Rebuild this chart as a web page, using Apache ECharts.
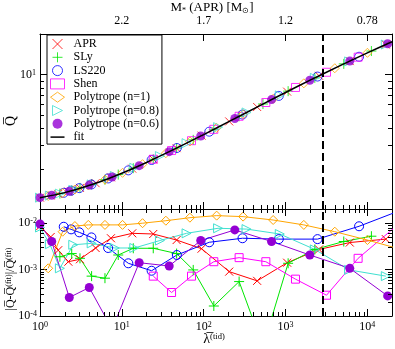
<!DOCTYPE html>
<html><head><meta charset="utf-8">
<script src="https://cdn.jsdelivr.net/npm/echarts@6/dist/echarts.min.js"></script>
<style>html,body{margin:0;padding:0;background:#fff}#c{width:395px;height:349px}</style>
</head><body><div id="c"></div>
<script>
// ---------------- data ----------------
const fitLambda = [1, 2, 5, 10, 20, 50, 100, 200, 500, 1000, 2000, 5000, 10000, 20000];
const fitQ = [1.214, 1.324, 1.569, 1.846, 2.218, 2.893, 3.577, 4.443, 5.926, 7.35, 9.08, 11.89, 14.48, 17.52];

const aprLambda = [1, 1.35, 1.67, 2.22, 3.08, 4.78, 7.36, 13.4, 24.2, 46.7, 94.2, 205, 450, 1047, 2570, 6100, 16800];
const aprQ = [1.214, 1.260, 1.294, 1.349, 1.435, 1.556, 1.718, 1.995, 2.344, 2.835, 3.512, 4.479, 5.733, 7.455, 9.777, 12.58, 16.70];
const aprErr = [8.5e-3, 5.0e-3, 2.6e-3, 1.47e-3, 1.66e-3, 2.9e-3, 4.7e-3, 6.0e-3, 5.8e-3, 4.3e-3, 2.8e-3, 9.0e-4, 5.7e-4, 1.4e-3, 2.7e-3, 3.8e-3, 4.5e-3];

const slyLambda = [1.75, 2.44, 3.08, 4.27, 6.22, 9.04, 13.8, 24.2, 46.7, 74.5, 133, 271, 530, 1076, 2280, 5150, 11200];
const slyQ = [1.302, 1.373, 1.435, 1.523, 1.652, 1.803, 2.011, 2.344, 2.835, 3.268, 3.912, 4.889, 6.034, 7.518, 9.438, 11.99, 14.94];
const slyErr = [1.88e-3, 2.2e-3, 1.74e-3, 7.2e-4, 6.5e-4, 2.05e-3, 2.86e-3, 2.86e-3, 2.2e-3, 9.8e-4, 1.64e-4, 5.5e-4, 2.2e-5, 1.36e-3, 2.7e-3, 4.0e-3, 5.2e-3];

const ls220Lambda = [1.95, 2.4, 3.02, 4.25, 6.8, 12.0, 23.1, 47, 117, 298, 828, 2460, 7920, 25000];
const ls220Q = [1.319, 1.369, 1.429, 1.522, 1.687, 1.937, 2.314, 2.841, 3.757, 5.035, 6.932, 9.652, 13.55, 18.6];
const ls220Err = [8.3e-3, 7.3e-3, 6.3e-3, 4.9e-3, 2.9e-3, 1.36e-3, 9.4e-4, 2.05e-3, 3.85e-3, 4.7e-3, 4.5e-3, 4.5e-3, 8.5e-3, 1.85e-2];

const shenLambda = [24.2, 40.5, 71, 133, 271, 575, 1324, 3170, 7710, 25000];
const shenQ = [2.344, 2.720, 3.220, 3.912, 4.889, 6.190, 8.008, 10.39, 13.45, 18.6];
const shenErr = [7.2e-4, 3.2e-4, 7.2e-4, 1.47e-3, 1.8e-3, 1.47e-3, 6.2e-4, 2.8e-4, 1.74e-3, 1.0e-2];

const poly1Lambda = [1.26, 1.89, 2.67, 3.89, 6.22, 10.2, 17.9, 34.5, 67.9, 144, 303, 706, 1673, 4000, 10020, 24000];
const poly1Q = [1.249, 1.314, 1.397, 1.497, 1.652, 1.857, 2.154, 2.598, 3.177, 4.008, 5.061, 6.598, 8.596, 11.13, 14.49, 18.4];
const poly1Err = [1.06e-3, 6.5e-3, 8.6e-3, 9.1e-3, 9.1e-3, 9.1e-3, 9.9e-3, 1.12e-2, 1.30e-2, 1.44e-2, 1.37e-2, 1.16e-2, 9.1e-3, 6.5e-3, 4.3e-3, 2.8e-3];

const poly08Lambda = [1, 1.32, 1.75, 2.55, 4.28, 8.2, 14.2, 29.2, 61.8, 150, 334, 851, 2280, 5980, 16800];
const poly08Q = [1.214, 1.257, 1.302, 1.385, 1.524, 1.762, 2.025, 2.475, 3.087, 4.060, 5.222, 6.991, 9.438, 12.51, 16.70];
const poly08Err = [8e-3, 3.5e-3, 1.06e-3, 3.4e-3, 3.65e-3, 2.9e-3, 2.9e-3, 4.2e-3, 6.0e-3, 7.7e-3, 7.4e-3, 5.8e-3, 2.7e-3, 9.8e-4, 7.2e-4];

const poly06Lambda = [1, 1.39, 2.28, 4.0, 7.6, 16.3, 37.9, 92, 240, 675, 1980, 6100, 17700];
const poly06Q = [1.214, 1.265, 1.356, 1.506, 1.731, 2.101, 2.670, 3.487, 4.704, 6.505, 9.055, 12.58, 16.94];
const poly06Err = [9.5e-3, 4.0e-3, 2.5e-4, 4.1e-4, 5.2e-5, 1.4e-3, 1.19e-3, 4.2e-3, 7.1e-3, 4.0e-3, 2.05e-3, 1.06e-3, 2.7e-4];

const dashedLambda = 2830;

const lambdaRange = [1, 20000];
const qRange = [1, 20];
const errRange = [1e-4, 2e-2];
const xMajorTicks = [1, 10, 100, 1000, 10000];
const xMinorTicks = [2,3,4,5,6,7,8,9,20,30,40,50,60,70,80,90,200,300,400,500,600,700,800,900,2000,3000,4000,5000,6000,7000,8000,9000];
const qMajorTicks = [10];
const qMinorTicks = [2,3,4,5,6,7,8,9];
const errMajorTicks = [1e-4, 1e-3, 1e-2];
const errMinorTicks = [2e-4,3e-4,4e-4,5e-4,6e-4,7e-4,8e-4,9e-4,2e-3,3e-3,4e-3,5e-3,6e-3,7e-3,8e-3,9e-3];
const massTickLambda = [10, 100, 1000, 10000];
const massTickLabels = ['2.2', '1.7', '1.2', '0.78'];

// ---------------- styling ----------------
const SERIF = '"Liberation Serif", "Times New Roman", serif';
const X_PATH = 'path://M0,0L10,10M0,10L10,0';
const PLUS_PATH = 'path://M5,0L5,10M0,5L10,5';
const TRI_RIGHT = 'path://M0,0L10,5L0,10Z';
const LINE_ICON = 'path://M0,0L14,0L14,1.5L0,1.5Z';

const eos = [
  {name: 'APR', lam: aprLambda, q: aprQ, err: aprErr, color: '#ff0000', symbol: X_PATH, size: 8, filled: false},
  {name: 'SLy', lam: slyLambda, q: slyQ, err: slyErr, color: '#00e600', symbol: PLUS_PATH, size: 10, filled: false},
  {name: 'LS220', lam: ls220Lambda, q: ls220Q, err: ls220Err, color: '#0000ff', symbol: 'circle', size: 9, filled: false},
  {name: 'Shen', lam: shenLambda, q: shenQ, err: shenErr, color: '#ff00ff', symbol: 'rect', size: 8, filled: false},
  {name: 'Polytrope (n=1)', lam: poly1Lambda, q: poly1Q, err: poly1Err, color: '#ffa500', symbol: 'diamond', size: 9, filled: false},
  {name: 'Polytrope (n=0.8)', lam: poly08Lambda, q: poly08Q, err: poly08Err, color: '#40e0d0', symbol: TRI_RIGHT, size: 9, filled: false},
  {name: 'Polytrope (n=0.6)', lam: poly06Lambda, q: poly06Q, err: poly06Err, color: '#9400d3', symbol: 'circle', size: 9, filled: true}
];

function symStyle(e) {
  return e.filled ? {color: e.color, borderColor: e.color, borderWidth: 0}
                  : {color: 'rgba(0,0,0,0)', borderColor: e.color, borderWidth: 1};
}

function powLabel(majors) {
  return function (v) {
    for (const m of majors) {
      if (Math.abs(v - m) / m < 1e-6) {
        const e = Math.round(Math.log10(m));
        return '{b|10}{s|' + (e < 0 ? '-' + (-e) : e) + '}';
      }
    }
    return '';
  };
}
const richPow = {
  b: {fontFamily: SERIF, fontSize: 12, color: '#000'},
  s: {fontFamily: SERIF, fontSize: 8, color: '#000', verticalAlign: 'top'}
};

function tickRenderer(bothX) {
  return function (params, api) {
    const cs = params.coordSys;
    const len = 4;
    const st = {stroke: '#000', lineWidth: 1};
    const ch = [];
    const p = api.coord([api.value(0), api.value(1)]);
    if (api.value(2) === 0) {
      const px = Math.round(p[0]) + 0.5;
      ch.push({type: 'line', shape: {x1: px, y1: cs.y + cs.height, x2: px, y2: cs.y + cs.height - len}, style: st});
      if (bothX) ch.push({type: 'line', shape: {x1: px, y1: cs.y, x2: px, y2: cs.y + len}, style: st});
    } else {
      const py = Math.round(p[1]) + 0.5;
      ch.push({type: 'line', shape: {x1: cs.x, y1: py, x2: cs.x + len, y2: py}, style: st});
      ch.push({type: 'line', shape: {x1: cs.x + cs.width, y1: py, x2: cs.x + cs.width - len, y2: py}, style: st});
    }
    return {type: 'group', children: ch};
  };
}

const axisLine = {show: true, lineStyle: {color: '#000', width: 1}};
const majorTick = {show: true, inside: true, length: 7, lineStyle: {color: '#000', width: 1}};

function logAxis(extra, range) {
  return Object.assign({
    type: 'log', logBase: 10, min: range[0], max: range[1],
    axisLine: axisLine, axisTick: majorTick, splitLine: {show: false},
    axisLabel: {show: false}
  }, extra);
}

const markLine = {
  silent: true, symbol: ['none', 'none'], label: {show: false}, animation: false,
  lineStyle: {color: '#000', type: [8, 4], width: 2},
  data: [{xAxis: dashedLambda}]
};

const series = [];
eos.forEach(e => {
  series.push({
    type: 'scatter', name: e.name, xAxisIndex: 0, yAxisIndex: 0,
    data: e.lam.map((l, i) => [l, e.q[i]]),
    symbol: e.symbol, symbolSize: e.size, itemStyle: symStyle(e), z: 2, clip: true
  });
});
series.push({
  type: 'line', name: 'fit', xAxisIndex: 0, yAxisIndex: 0,
  data: fitLambda.map((l, i) => [l, fitQ[i]]),
  symbol: 'none', smooth: 0.3, lineStyle: {color: '#000', width: 1.5}, itemStyle: {color: '#000'}, z: 3,
  markLine: markLine
});
eos.forEach((e, k) => {
  series.push({
    type: 'line', name: e.name + ' residual', xAxisIndex: 2, yAxisIndex: 2,
    data: e.lam.map((l, i) => [l, e.err[i]]),
    symbol: e.symbol, symbolSize: e.size, showSymbol: true, showAllSymbol: true,
    itemStyle: symStyle(e), lineStyle: {color: e.color, width: 1}, clip: true, z: 2,
    markLine: k === 0 ? markLine : undefined
  });
});
series.push({
  type: 'custom', xAxisIndex: 0, yAxisIndex: 0, silent: true, z: 6, clip: false,
  data: xMinorTicks.map(v => [v, qRange[0], 0]).concat(qMinorTicks.map(v => [lambdaRange[0], v, 1])),
  renderItem: tickRenderer(false)
});
series.push({
  type: 'custom', xAxisIndex: 2, yAxisIndex: 2, silent: true, z: 6, clip: false,
  data: xMinorTicks.map(v => [v, errRange[0], 0]).concat(errMinorTicks.map(v => [lambdaRange[0], v, 1])),
  renderItem: tickRenderer(true)
});

const option = {
  animation: false,
  backgroundColor: '#fff',
  grid: [
    {left: 40, right: 3, top: 34, height: 175, outerBoundsMode: 'none', containLabel: false},
    {left: 40, right: 3, top: 209, height: 107, outerBoundsMode: 'none', containLabel: false}
  ],
  xAxis: [
    logAxis({gridIndex: 0, position: 'bottom'}, lambdaRange),
    logAxis({gridIndex: 0, position: 'top',
      axisLabel: {show: true, margin: 7, fontFamily: SERIF, fontSize: 12, color: '#000',
        formatter: v => { const i = massTickLambda.findIndex(m => Math.abs(v - m) / m < 1e-6); return i >= 0 ? massTickLabels[i] : ''; }}
    }, lambdaRange),
    logAxis({gridIndex: 1, position: 'bottom',
      axisLabel: {show: true, margin: 5, formatter: powLabel(xMajorTicks), rich: richPow}
    }, lambdaRange),
    logAxis({gridIndex: 1, position: 'top'}, lambdaRange)
  ],
  yAxis: [
    logAxis({gridIndex: 0, position: 'left',
      axisLabel: {show: true, margin: 4, formatter: powLabel(qMajorTicks), rich: richPow}
    }, qRange),
    logAxis({gridIndex: 0, position: 'right'}, qRange),
    logAxis({gridIndex: 1, position: 'left',
      axisLabel: {show: true, margin: 3, formatter: powLabel(errMajorTicks), rich: richPow}
    }, errRange),
    logAxis({gridIndex: 1, position: 'right'}, errRange)
  ],
  legend: {
    orient: 'vertical', left: 47, top: 35, selectedMode: false,
    data: eos.map(e => ({name: e.name, icon: e.symbol, itemStyle: symStyle(e)}))
      .concat([{name: 'fit', icon: LINE_ICON, itemStyle: {color: '#000', borderWidth: 0}}]),
    itemWidth: 14, itemHeight: 10, itemGap: 1.3,
    padding: [3, 3, 1, 3],
    borderColor: '#000', borderWidth: 1, backgroundColor: '#fff',
    textStyle: {fontFamily: SERIF, fontSize: 12, color: '#000', padding: [0, 0, 0, 4]}
  },
  graphic: [
    {type: 'text', x: 212, y: 8, silent: true, style: {
      text: 'M{sub|*} (APR) [M{sub|⊙}]', fill: '#000', fontFamily: SERIF, fontSize: 13,
      align: 'center', verticalAlign: 'middle',
      rich: {sub: {fontFamily: SERIF, fontSize: 8, verticalAlign: 'bottom', fill: '#000'}}}},
    {type: 'text', x: 214, y: 339, silent: true, style: {
      text: 'λ\u0305{sup|(tid)}', fill: '#000', fontFamily: SERIF, fontSize: 14,
      align: 'center', verticalAlign: 'middle',
      rich: {sup: {fontFamily: SERIF, fontSize: 8.5, verticalAlign: 'top', fill: '#000'}}}},
    {type: 'text', x: 11, y: 121, rotation: Math.PI / 2, silent: true, style: {
      text: 'Q\u0305', fill: '#000', fontFamily: SERIF, fontSize: 14,
      align: 'center', verticalAlign: 'middle'}},
    {type: 'text', x: 11, y: 279, rotation: Math.PI / 2, silent: true, style: {
      text: '|Q\u0305-Q\u0305{sup|(fit)}|/Q\u0305{sup|(fit)}', fill: '#000', fontFamily: SERIF, fontSize: 12,
      align: 'center', verticalAlign: 'middle',
      rich: {sup: {fontFamily: SERIF, fontSize: 8, verticalAlign: 'top', fill: '#000'}}}}
  ],
  series: series
};

const chart = echarts.init(document.getElementById('c'), null, {renderer: 'canvas'});
chart.setOption(option);
</script>
</body></html>
